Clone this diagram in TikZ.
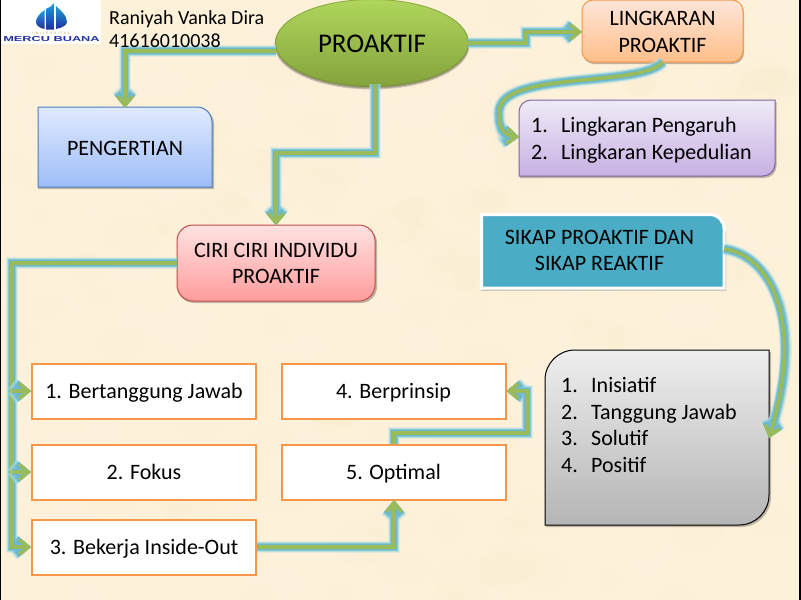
\documentclass[tikz,border=0pt]{standalone}
\usepackage{fontspec}
\setmainfont{Carlito}
\newfontfamily\logofont{Liberation Sans}
\usetikzlibrary{arrows.meta,shapes.geometric}
\definecolor{paper}{HTML}{FDF1DA}
\definecolor{glowc}{HTML}{4BACC6}
\definecolor{glowa}{HTML}{BFE2E2}
\definecolor{glowb}{HTML}{9FD6E0}
\definecolor{glowd}{HTML}{7CC3D3}
\definecolor{glowe}{HTML}{6DB9CC}
\definecolor{linkc}{HTML}{9BBB59}
\definecolor{orangeb}{HTML}{F79646}
\definecolor{logotop}{HTML}{1BA0D8}
\definecolor{logobot}{HTML}{2030A0}
\definecolor{elltop}{HTML}{B0D65C}
\definecolor{ellbot}{HTML}{84A23C}
\definecolor{pengtop}{HTML}{E1EAFD}
\definecolor{pengbot}{HTML}{9DBDF9}
\definecolor{pengdraw}{HTML}{4A7EBB}
\definecolor{lingtop}{HTML}{FFE5D8}
\definecolor{lingbot}{HTML}{FFBF8B}
\definecolor{listtop}{HTML}{F0EBF8}
\definecolor{listbot}{HTML}{C6B0E3}
\definecolor{listdraw}{HTML}{8064A2}
\definecolor{ciritop}{HTML}{FFE2E2}
\definecolor{ciribot}{HTML}{FF9C9C}
\definecolor{ciridraw}{HTML}{BE4B48}
\definecolor{greytop}{HTML}{EEEEEE}
\definecolor{greybot}{HTML}{B5B5B5}
\tikzset{
  x=1pt,y=-1pt,
  conn/.style={draw=linkc,line width=3.5pt,line join=miter,
    preaction={draw=glowa,line width=12.5pt,opacity=.4},
    preaction={draw=glowb,line width=10.5pt,opacity=.6},
    preaction={draw=glowd,line width=8.5pt,opacity=.8},
    preaction={draw=glowe,line width=6.5pt}},
  endtip/.style={-{Straight Barb[length=9pt,width=15pt]}},
  textlab/.style={inner sep=0pt,align=center,font=\fontsize{22}{26.3}\selectfont},
  listlabel/.style={inner sep=0pt,align=left,font=\fontsize{22}{26.6}\selectfont},
  whitebox/.style={draw=orangeb,fill=white,line width=2pt,minimum width=224pt,minimum height=55pt,
    inner sep=0pt,text height=14pt,text depth=0pt,font=\fontsize{22}{24}\selectfont},
  boxshadow/.style={fill=black,opacity=.25},
  logotile/.style={top color=logotop,bottom color=logobot,draw=none},
}
\newcommand{\itm}[2]{\makebox[30pt][l]{#1}#2}
\begin{document}
\begin{tikzpicture}
\useasboundingbox (0,0) rectangle (801,600);
\fill[paper] (0,0) rectangle (801,600);
\pgfmathsetseed{7}
\foreach \i in {1,...,160}{
  \pgfmathsetmacro{\px}{rnd*801}\pgfmathsetmacro{\py}{rnd*600}
  \pgfmathsetmacro{\pr}{10+rnd*22}
  \fill[white,opacity=.03] (\px,\py) ellipse [x radius=\pr pt,y radius=.6*\pr pt];
  \pgfmathsetmacro{\qx}{rnd*801}\pgfmathsetmacro{\qy}{rnd*600}
  \fill[brown,opacity=.008] (\qx,\qy) ellipse [x radius=\pr pt,y radius=.7*\pr pt];
}
\fill[black] (0,0) rectangle (1,600);
\fill[black] (798.5,0) rectangle (801,600);

% logo
\fill[white] (1,0) rectangle (101,44);
\shade[logotile] (44.5,10) .. controls (39,14) and (36,18) .. (36,22) .. controls (36,25) and (39,28) .. (44.5,29) -- cycle;
\shade[logotile] (46,29.5) -- (46,9) .. controls (49,8) and (52,6) .. (54,3) -- (54.6,29.5) -- cycle;
\shade[logotile] (56,29) -- (56,6) .. controls (60,10) and (67,15) .. (67,22) .. controls (67,25) and (62,28) .. (56,29) -- cycle;
\node (univ) at (51,33.5) [inner sep=0pt,text=olive!70!white,font=\logofont\fontsize{3.2}{4}\selectfont] {U\,\,\,N\,\,\,I\,\,\,V\,\,\,E\,\,\,R\,\,\,S\,\,\,I\,\,\,T\,\,\,A\,\,\,S};
\node (mercu) at (51.5,39.5) [inner sep=0pt,text=logobot,transform shape,xscale=1.77,font=\logofont\bfseries\fontsize{7.2}{8}\selectfont] {MERCU BUANA};

% pengertian
\fill[boxshadow] (38,189) -- (38,109) -- (199,109) .. controls (207.3,109) and (214,115.7) .. (214,124) -- (214,189) -- cycle;
\draw[draw=pengdraw,line width=1pt,top color=pengtop,bottom color=pengbot]
  (38,107) -- (197,107) .. controls (205.3,107) and (212,113.7) .. (212,122) -- (212,187) -- (38,187) -- cycle;
\node[textlab,minimum width=174pt,minimum height=80pt] (peng) at (125,148) {PENGERTIAN};

% lingkaran proaktif
\fill[boxshadow,rounded corners=11pt] (583,1.5) rectangle (744,64);
\draw[draw=orangeb,line width=1pt,top color=lingtop,bottom color=lingbot,rounded corners=11pt] (582,0) rectangle (743,62);
\node[textlab,minimum width=161pt,minimum height=62pt] (ling) at (662.5,32) {LINGKARAN\\PROAKTIF};

% lingkaran list
\fill[boxshadow] (520,178) -- (520,114) .. controls (520,107.4) and (525.4,102) .. (532,102) -- (776.5,102) -- (776.5,166) .. controls (776.5,172.6) and (771,178) .. (764.5,178) -- cycle;
\draw[draw=listdraw,line width=1pt,top color=listtop,bottom color=listbot]
  (519,176) -- (519,112) .. controls (519,105.4) and (524.4,100) .. (531,100) -- (775,100) -- (775,164) .. controls (775,170.6) and (769.6,176) .. (763,176) -- cycle;
\node[minimum width=256pt,minimum height=76pt,inner sep=0pt] (list) at (647,138) {};
\node[listlabel,anchor=west] (listtext) at (531,140) {\itm{1.}{Lingkaran Pengaruh}\\\itm{2.}{Lingkaran Kepedulian}};

% sikap
\fill[boxshadow] (481,290.5) -- (481,222) -- (712,222) .. controls (719,222) and (726,226) .. (726,232) -- (726,290.5) -- cycle;
\draw[draw=white,fill=glowc,line width=3pt] (481.5,214.5) -- (710,214.5) .. controls (717.7,214.5) and (724,220.8) .. (724,228.5) -- (724,288) -- (481.5,288) -- cycle;
\node[textlab,minimum width=243pt,minimum height=74pt] (sikap) at (599.5,250.5) {SIKAP PROAKTIF DAN\\SIKAP REAKTIF};

% grey list
\fill[boxshadow] (546,527) -- (546,382) .. controls (546,365.4) and (559.4,352) .. (576,352) -- (771,352) -- (771,497) .. controls (771,513.6) and (757.6,527) .. (741,527) -- cycle;
\draw[draw=black,line width=1pt,top color=greytop,bottom color=greybot]
  (545,525) -- (545,380) .. controls (545,363.4) and (558.4,350) .. (575,350) -- (769,350) -- (769,495) .. controls (769,511.6) and (755.6,525) .. (739,525) -- cycle;
\node[minimum width=224pt,minimum height=175pt,inner sep=0pt] (grey) at (657,437.5) {};
\node[listlabel,anchor=north west] (greytext) at (561,377) {\itm{1.}{Inisiatif}\\\itm{2.}{Tanggung Jawab}\\\itm{3.}{Solutif}\\\itm{4.}{Positif}};

% ciri
\fill[boxshadow,rounded corners=16pt] (178,227) rectangle (377,303);
\draw[draw=ciridraw,line width=1pt,top color=ciritop,bottom color=ciribot,rounded corners=16pt] (177,225) rectangle (375,301);
\node[textlab,minimum width=198pt,minimum height=76pt] (ciri) at (276,263.5) {CIRI CIRI INDIVIDU\\PROAKTIF};

% white boxes
\node[whitebox] (b1) at (144,391) {1. Bertanggung Jawab};
\node[whitebox] (b2) at (144,472) {2. Fokus};
\node[whitebox] (b3) at (144,547) {3. Bekerja Inside-Out};
\node[whitebox] (b4) at (393.5,391) {4. Berprinsip};
\node[whitebox] (b5) at (393.5,472) {5. Optimal};

% proaktif ellipse
\fill[black,opacity=.18] (372,45.5) ellipse [x radius=97.5,y radius=44];
\fill[black,opacity=.2] (372,44.5) ellipse [x radius=97,y radius=44];
\shade[top color=elltop,bottom color=ellbot] (372,43) ellipse [x radius=97,y radius=44];
\draw[ellbot!70!black,opacity=.35,line width=1pt] (372,43) ellipse [x radius=96.5,y radius=43.5];
\node[textlab,font=\fontsize{27}{30}\selectfont,ellipse,minimum width=194pt,minimum height=88pt] (pro) at (372,44) {PROAKTIF};

% free ends
\coordinate (proL) at (276,51);
\coordinate (proE) at (468,43);
\coordinate (proB) at (375,84);
\coordinate (midD) at (375,153);
\coordinate (lingB) at (663,62);
\coordinate (trunk) at (12,263);
\coordinate (sBend) at (527,433);
\coordinate (optT) at (394,444);
\coordinate (optB) at (394,500);
\coordinate (greyR) at (769,438);
\coordinate (sikapR) at (724,249);
\coordinate (listL) at (519,137);

% connectors
\path[conn,endtip] (proL) -| (peng.north);
\path[conn,endtip] (proE) -- ++(58,0) |- (ling.west);
\path[conn,endtip] (proB) -- (midD) -- (midD -| ciri.north) -- (ciri.north);
\path[conn,endtip] (lingB) .. controls (640,88) and (500,70) .. (499,112) .. controls (498,130) and (506,136) .. (listL);
\path[conn,endtip] (sikapR) .. controls (770,255) and (805,320) .. (greyR);
\path[conn,endtip] (ciri.west |- trunk) -- (trunk) |- (b3.west);
\path[conn,endtip] (trunk |- b1.west) -- (b1.west);
\path[conn,endtip] (trunk |- b2.west) -- (b2.west);
\path[conn,endtip] (b3.east) -| (optB);
\path[conn,endtip] (optT) |- (sBend) |- (b4.east);

% author
\node[inner sep=0pt,anchor=north west,align=left,font=\fontsize{20}{23}\selectfont] (author) at (109,10) {Raniyah Vanka Dira\\41616010038};
\end{tikzpicture}
\end{document}
